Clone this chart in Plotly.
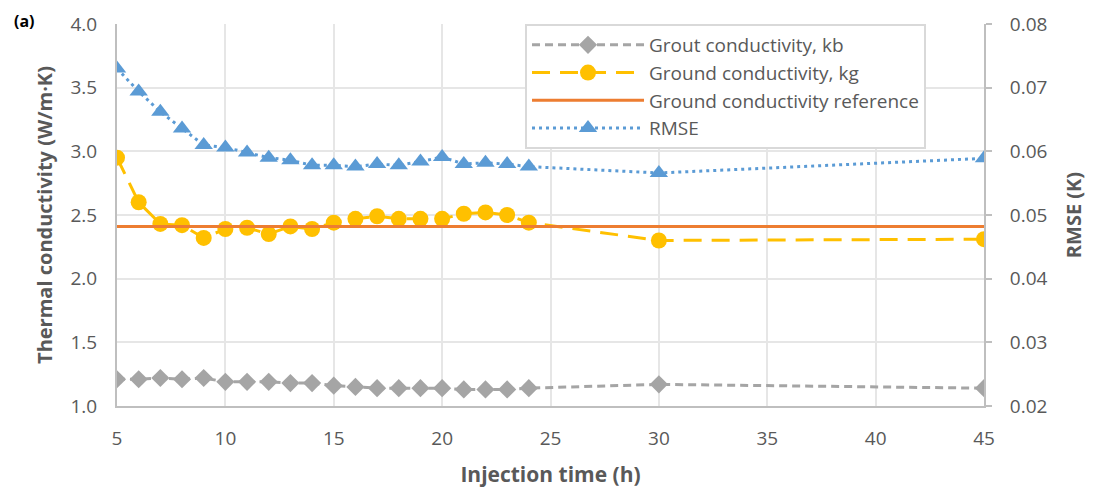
import plotly.graph_objects as go

time_h = [5, 6, 7, 8, 9, 10, 11, 12, 13, 14, 15, 16, 17, 18, 19, 20, 21, 22, 23, 24, 30, 45]
grout_kb = [1.21, 1.21, 1.22, 1.21, 1.22, 1.19, 1.19, 1.19, 1.18, 1.18, 1.16, 1.15, 1.14, 1.14, 1.14, 1.14,
            1.13, 1.13, 1.13, 1.14, 1.17, 1.14]
ground_kg = [2.95, 2.60, 2.43, 2.42, 2.32, 2.39, 2.40, 2.35, 2.41, 2.39, 2.44, 2.47, 2.49, 2.47, 2.47, 2.47,
             2.51, 2.52, 2.50, 2.44, 2.30, 2.31]
ref_time = [5, 45]
ground_ref = [2.41, 2.41]
rmse = [0.0730, 0.0694, 0.0662, 0.0636, 0.0610, 0.0606, 0.0598, 0.0590, 0.0586, 0.0578, 0.0578, 0.0576,
        0.0580, 0.0578, 0.0584, 0.0591, 0.0580, 0.0582, 0.0580, 0.0576, 0.0566, 0.0589]

FONT = "Open Sans"
GREY = "#595959"

fig = go.Figure()
fig.add_trace(go.Scatter(x=time_h, y=grout_kb, name="Grout conductivity, kb", mode="lines+markers",
                         line=dict(color="#a5a5a5", width=3, dash="8px,5px"),
                         marker=dict(symbol="diamond", size=14, color="#a5a5a5")))
fig.add_trace(go.Scatter(x=time_h, y=ground_kg, name="Ground conductivity, kg", mode="lines+markers",
                         line=dict(color="#ffc000", width=3, dash="18px,10px"),
                         marker=dict(symbol="circle", size=16, color="#ffc000")))
fig.add_trace(go.Scatter(x=ref_time, y=ground_ref, name="Ground conductivity reference", mode="lines",
                         line=dict(color="#ed7d31", width=3)))
fig.add_trace(go.Scatter(x=time_h, y=rmse, name="RMSE", mode="lines+markers", yaxis="y2",
                         line=dict(color="#5b9bd5", width=3, dash="3px,4px"),
                         marker=dict(symbol="triangle-up", size=16, color="#5b9bd5")))

fig.update_layout(
    width=1089, height=487,
    margin=dict(l=109, r=113, t=16, b=89, autoexpand=False),
    plot_bgcolor="white", paper_bgcolor="white",
    font=dict(family=FONT, color=GREY, size=19),
    xaxis=dict(range=[5, 45], dtick=5, tick0=5, showgrid=True, gridcolor="#e6e6e6", gridwidth=1.5,
               showline=True, linecolor="#bfbfbf", linewidth=2, zeroline=False, ticks="",
               tickfont=dict(size=19, color=GREY), ticklabelstandoff=14, automargin=False,
               title=dict(text="<b>Injection time (h)</b>", font=dict(size=21, color=GREY), standoff=18)),
    yaxis=dict(range=[1.0, 4.0], dtick=0.5, tickformat=".1f", showgrid=True, gridcolor="#e6e6e6", gridwidth=1.5,
               showline=True, linecolor="#bfbfbf", linewidth=2, zeroline=False, ticks="",
               tickfont=dict(size=19, color=GREY), ticklabelstandoff=14, automargin=False,
               title=dict(text="<b>Thermal conductivity (W/m·K)</b>", font=dict(size=20, color=GREY), standoff=12)),
    yaxis2=dict(range=[0.02, 0.08], dtick=0.01, tickformat=".2f", overlaying="y", side="right",
                showgrid=False, showline=True, linecolor="#bfbfbf", linewidth=2, zeroline=False,
                ticks="outside", ticklen=6, tickwidth=2, tickcolor="#bfbfbf", tickfont=dict(size=19, color=GREY),
                ticklabelstandoff=14, automargin=False,
                title=dict(text="<b>RMSE (K)</b>", font=dict(size=20, color=GREY), standoff=20)),
    legend=dict(x=0.4706, y=1.0, xanchor="left", yanchor="top", bgcolor="white",
                bordercolor="#d9d9d9", borderwidth=2, font=dict(size=19, color=GREY),
                tracegroupgap=0, itemwidth=112),
    showlegend=True,
)
fig.add_annotation(text="<b>(a)</b>", xref="paper", yref="paper", x=-0.1215, y=1.008, xanchor="left",
                   yanchor="middle", showarrow=False, font=dict(size=16, color="black", family=FONT))

fig.write_html("out.html")
